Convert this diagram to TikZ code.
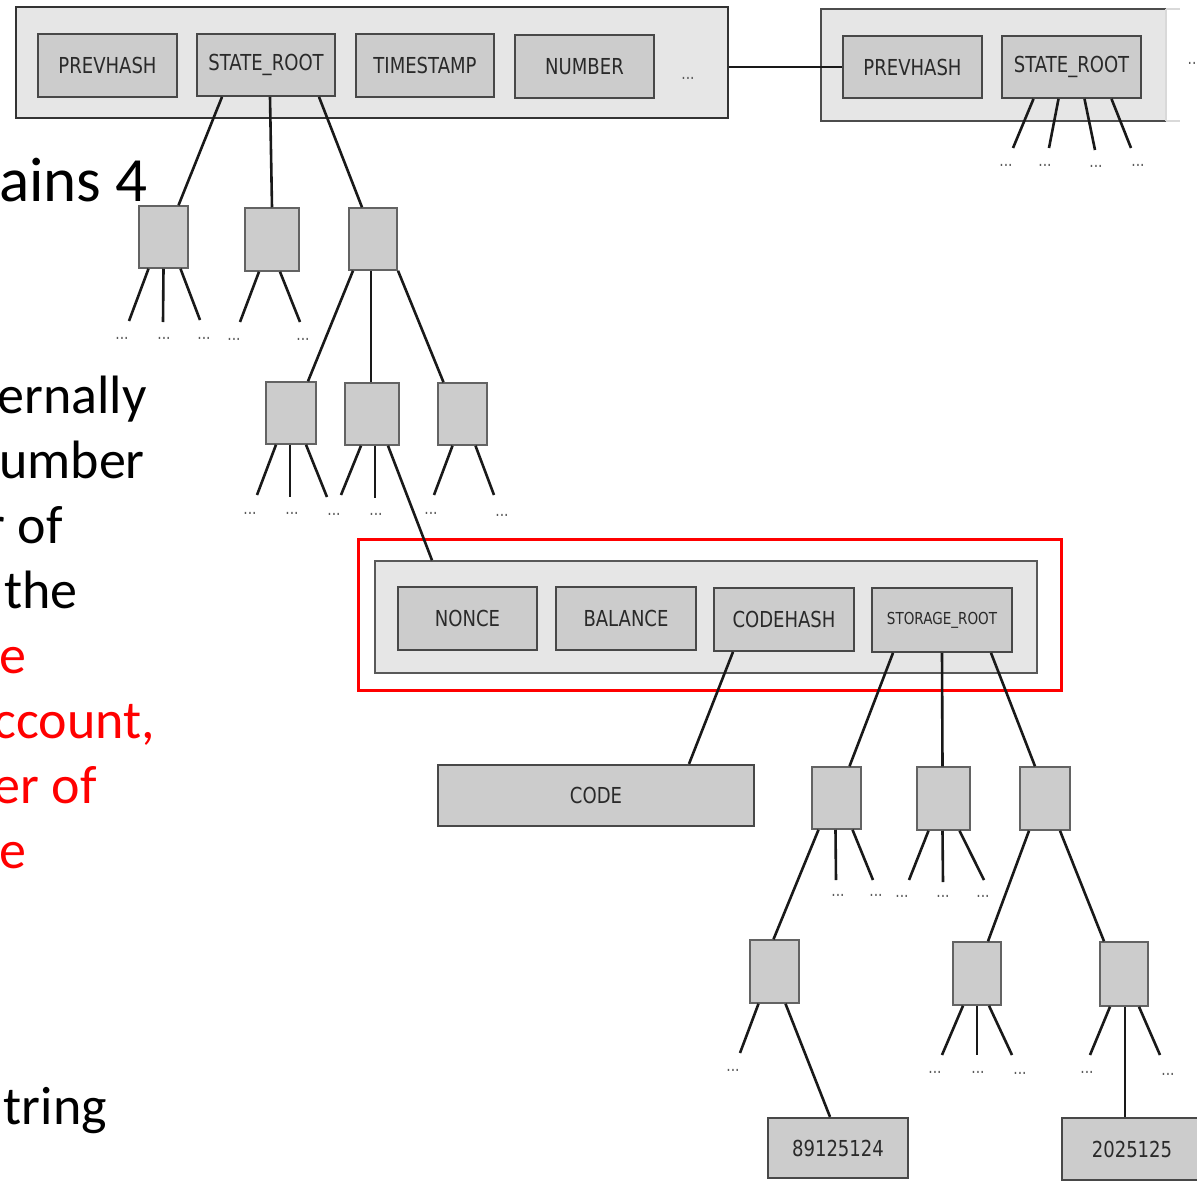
\documentclass[tikz,border=0pt]{standalone}
\usepackage{fontspec}
\setmainfont{Carlito}
\newfontfamily\boxfont[FakeStretch=0.82]{DejaVu Sans}
\definecolor{boxfill}{HTML}{CCCCCC}
\definecolor{outerfill}{HTML}{E6E6E6}
\definecolor{boxline}{HTML}{484848}
\definecolor{boxtext}{HTML}{2A2A2A}
\begin{document}
\begin{tikzpicture}[x=1pt,y=-1pt,
  ibox/.style={draw=boxline,fill=boxfill,line width=1.8pt,inner sep=0pt,text=boxtext,
    font=\boxfont\fontsize{22}{24}\selectfont},
  obox/.style={draw=black!80,fill=outerfill,line width=1.8pt,inner sep=0pt},
  tnode/.style={draw=boxline!85,fill=boxfill,line width=1.5pt,inner sep=0pt,minimum width=49pt,minimum height=62pt},
  edge/.style={line width=2.6pt,draw=black!90},
  dotsn/.style={text=black!65,font=\boxfont\fontsize{17}{18}\selectfont,inner sep=0pt},
  ltext/.style={anchor=base east,inner sep=0pt,font=\fontsize{54}{65}\selectfont},
]
\useasboundingbox (0,0) rectangle (1197,1181);
\clip (0,0) rectangle (1197,1181);

% ---------- left text (cut off at the page edge) ----------
\node[ltext,font=\fontsize{63}{70}\selectfont] (t1) at (148,201) {ains 4};
\node[ltext] (t2) at (147,413) {ernally};
\node[ltext] (t3) at (145,478) {umber};
\node[ltext] (t4) at (63,543) {r of};
\node[ltext] (t5) at (78,608) {the};
\node[ltext,text=red] (t6) at (27,673) {e};
\node[ltext,text=red] (t7) at (155,738) {ccount,};
\node[ltext,text=red] (t8) at (97,803) {er of};
\node[ltext,text=red] (t9) at (27,868) {e};
\node[ltext] (t10) at (107,1124) {tring};

% ---------- top block ----------
\node[obox,minimum width=712pt,minimum height=111pt] (blk1) at (372,62.5) {};
\node[ibox,minimum width=139pt,minimum height=63pt] (ph1) at (107.5,65.5) {PREVHASH};
\node[ibox,minimum width=138pt,minimum height=62pt] (sr1) at (266,65) {STATE\_ROOT};
\node[ibox,minimum width=138pt,minimum height=63pt] (ts1) at (425,65.5) {TIMESTAMP};
\node[ibox,minimum width=139pt,minimum height=63pt] (nb1) at (584.5,66.5) {NUMBER};
\node[dotsn] (d0) at (688,78) {...};

% ---------- second block (right) ----------
\draw[draw=black!70,line width=1.8pt,fill=outerfill] (1166,9) -- (821,9) -- (821,121) -- (1166,121);
\draw[draw=black!15,line width=1.2pt] (1166,9) -- (1180,9);
\draw[draw=black!15,line width=1.2pt] (1166,121) -- (1180,121);
\draw[draw=black!15,line width=1.2pt] (1166,9) -- (1166,121);
\node[ibox,minimum width=139pt,minimum height=62pt] (ph2) at (912.5,67) {PREVHASH};
\node[ibox,minimum width=139pt,minimum height=62pt] (sr2) at (1071.5,67) {STATE\_ROOT};
\node[dotsn] (d00) at (1192,63) {..};
\draw[edge] (blk1.east |- ph2.west) -- (ph2.west);

% sr2 children
\coordinate (e21) at (1013,148);
\coordinate (e22) at (1049,148);
\coordinate (e23) at (1095,150);
\coordinate (e24) at (1131,148);
\draw[edge] ([xshift=-38pt]sr2.south) -- (e21);
\draw[edge] ([xshift=-13pt]sr2.south) -- (e22);
\draw[edge] ([xshift=13pt]sr2.south) -- (e23);
\draw[edge] ([xshift=40pt]sr2.south) -- (e24);
\node[dotsn] at (1006,165) {...};
\node[dotsn] at (1045,165) {...};
\node[dotsn] at (1096,166) {...};
\node[dotsn] at (1138,165) {...};

% ---------- state trie ----------
\node[tnode] (A) at (163.5,237) {};
\node[tnode,minimum width=54pt,minimum height=63pt] (B) at (272,239.5) {};
\node[tnode,minimum width=48pt] (C) at (373,239) {};
\draw[edge] ([xshift=-44pt]sr1.south) -- ([xshift=15pt]A.north);
\draw[edge] ([xshift=4pt]sr1.south) -- (B.north);
\draw[edge] ([xshift=53pt]sr1.south) -- ([xshift=-11pt]C.north);

% A children
\coordinate (a1) at (129,321);
\coordinate (a2) at (163,322);
\coordinate (a3) at (200,320);
\draw[edge] ([xshift=-15pt]A.south) -- (a1);
\draw[edge] (A.south) -- (a2);
\draw[edge] ([xshift=17pt]A.south) -- (a3);
\node[dotsn] at (122,338) {...};
\node[dotsn] at (164,338) {...};
\node[dotsn] at (204,338) {...};
% B children
\coordinate (b1) at (240,322);
\coordinate (b2) at (300,322);
\draw[edge] ([xshift=-13pt]B.south) -- (b1);
\draw[edge] ([xshift=8pt]B.south) -- (b2);
\node[dotsn] at (234,339) {...};
\node[dotsn] at (303,339) {...};

% level 2
\node[tnode,minimum width=50pt] (D) at (291,413) {};
\node[tnode,minimum width=54pt] (E) at (372,414) {};
\node[tnode,minimum width=49pt] (F) at (462.5,414) {};
\draw[edge] ([xshift=-20pt]C.south) -- ([xshift=17pt]D.north);
\draw[edge] ([xshift=-2pt]C.south) -- ([xshift=-1pt]E.north);
\draw[edge] ([xshift=25pt]C.south) -- ([xshift=-19pt]F.north);

% D children
\coordinate (dd1) at (257,495);
\coordinate (dd2) at (290,497);
\coordinate (dd3) at (327,497);
\draw[edge] ([xshift=-15pt]D.south) -- (dd1);
\draw[edge] ([xshift=-1pt]D.south) -- (dd2);
\draw[edge] ([xshift=15pt]D.south) -- (dd3);
\node[dotsn] at (250,513) {...};
\node[dotsn] at (292,513) {...};
\node[dotsn] at (334,514) {...};
% E children
\coordinate (ee1) at (341,495);
\coordinate (ee2) at (375,498);
\draw[edge] ([xshift=-11pt]E.south) -- (ee1);
\draw[edge] ([xshift=3pt]E.south) -- (ee2);
\node[dotsn] at (376,514) {...};
% F children
\coordinate (ff1) at (434,495);
\coordinate (ff2) at (494,495);
\draw[edge] ([xshift=-10pt]F.south) -- (ff1);
\draw[edge] ([xshift=13pt]F.south) -- (ff2);
\node[dotsn] at (431,513) {...};
\node[dotsn] at (502,515) {...};

% ---------- account block ----------
\node[draw=red,line width=3pt,minimum width=703pt,minimum height=151pt,inner sep=0pt] (hl) at (709.5,614.5) {};
\node[obox,draw=black!65,line width=1.5pt,minimum width=662pt,minimum height=112pt] (acc) at (706,617) {};
\node[ibox,minimum width=139pt,minimum height=63pt] (nonce) at (467.5,618.5) {NONCE};
\node[ibox,minimum width=140pt,minimum height=63pt] (bal) at (626,618.5) {BALANCE};
\node[ibox,minimum width=140pt,minimum height=63pt] (ch) at (784,619.5) {CODEHASH};
\node[ibox,minimum width=140pt,minimum height=64pt,font=\boxfont\fontsize{16.5}{18}\selectfont] (st) at (942,620) {STORAGE\_ROOT};
\draw[edge] ([xshift=16pt]E.south) -- ([xshift=-274pt]acc.north);

% code
\node[ibox,line width=2.2pt,minimum width=316pt,minimum height=61pt] (code) at (596,795.5) {CODE};
\draw[edge] ([xshift=-51pt]ch.south) -- ([xshift=93pt]code.north);

% storage trie
\node[tnode,minimum width=49pt] (G) at (836.5,798) {};
\node[tnode,minimum width=53pt,minimum height=63pt] (H) at (943.5,798.5) {};
\node[tnode,minimum width=50pt,minimum height=63pt] (I) at (1045,798.5) {};
\draw[edge] ([xshift=-49pt]st.south) -- ([xshift=13pt]G.north);
\draw[edge] (st.south) -- ([xshift=-1pt]H.north);
\draw[edge] ([xshift=49pt]st.south) -- ([xshift=-10pt]I.north);

% G children
\coordinate (g2) at (836,880);
\coordinate (g3) at (873,880);
\draw[edge] ([xshift=-1pt]G.south) -- (g2);
\draw[edge] ([xshift=16pt]G.south) -- (g3);
\node[dotsn] at (838,895) {...};
\node[dotsn] at (876,895) {...};
% H children
\coordinate (h1) at (909,880);
\coordinate (h2) at (943,882);
\coordinate (h3) at (984,880);
\draw[edge] ([xshift=-15pt]H.south) -- (h1);
\draw[edge] ([xshift=-1pt]H.south) -- (h2);
\draw[edge] ([xshift=16pt]H.south) -- (h3);
\node[dotsn] at (902,896) {...};
\node[dotsn] at (943,896) {...};
\node[dotsn] at (983,896) {...};

% level 3
\node[tnode,minimum width=49pt,minimum height=63pt] (J) at (774.5,971.5) {};
\node[tnode,minimum width=48pt,minimum height=63pt] (K) at (977,973.5) {};
\node[tnode,minimum width=48pt,minimum height=64pt] (L) at (1124,974) {};
\draw[edge] ([xshift=-18pt]G.south) -- ([xshift=-1pt]J.north);
\draw[edge] ([xshift=-16pt]I.south) -- ([xshift=11pt]K.north);
\draw[edge] ([xshift=15pt]I.south) -- ([xshift=-20pt]L.north);

% J children
\coordinate (j1) at (740,1053);
\draw[edge] ([xshift=-16pt]J.south) -- (j1);
\node[dotsn] at (733,1070) {...};
\node[ibox,line width=2.2pt,minimum width=140pt,minimum height=60pt] (v1) at (838,1148) {89125124};
\draw[edge] ([xshift=11pt]J.south) -- ([xshift=-8pt]v1.north);

% K children
\coordinate (k1) at (942,1055);
\coordinate (k2) at (977,1055);
\coordinate (k3) at (1012,1055);
\draw[edge] ([xshift=-14pt]K.south) -- (k1);
\draw[edge] (K.south) -- (k2);
\draw[edge] ([xshift=12pt]K.south) -- (k3);
\node[dotsn] at (935,1072) {...};
\node[dotsn] at (978,1072) {...};
\node[dotsn] at (1020,1073) {...};

% L children
\coordinate (l1) at (1090,1055);
\coordinate (l3) at (1160,1055);
\draw[edge] ([xshift=-14pt]L.south) -- (l1);
\draw[edge] ([xshift=15pt]L.south) -- (l3);
\node[dotsn] at (1087,1072) {...};
\node[dotsn] at (1168,1074) {...};
\node[ibox,line width=2.2pt,minimum width=140pt,minimum height=62pt] (v2) at (1132,1149) {2025125};
\draw[edge] ([xshift=1pt]L.south) -- ([xshift=-7pt]v2.north);
\end{tikzpicture}
\end{document}
